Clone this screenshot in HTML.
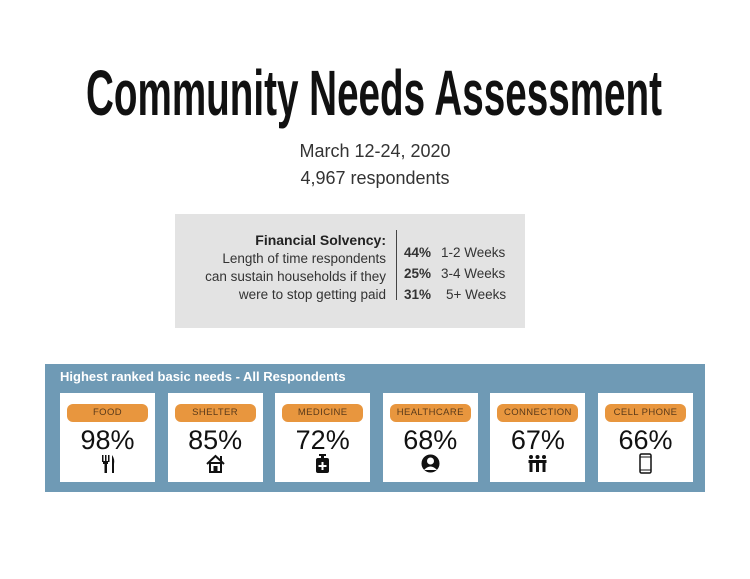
<!DOCTYPE html>
<html><head><meta charset="utf-8"><style>
body{margin:0;width:750px;height:579px;background:#fff;position:relative;overflow:hidden;font-family:"Liberation Sans",sans-serif;}
.abs{position:absolute;}
.sub{left:0;width:750px;text-align:center;font-size:18px;color:#333;}
.gray{left:175px;top:214px;width:350px;height:114px;background:#e3e3e3;}
.lt{right:141px;text-align:right;font-size:13.5px;color:#333;white-space:nowrap;}
.rt{font-size:13.5px;color:#333;white-space:nowrap;}
.panel{left:45px;top:364px;width:660px;height:128px;background:#6f9ab5;}
.card{top:393px;width:95px;height:89px;background:#fff;}
.pill{position:absolute;left:7px;top:11px;width:81px;height:18px;background:#e8963e;border-radius:6px;text-align:center;font-size:9.5px;letter-spacing:0.4px;line-height:18px;color:#5a3a1a;white-space:nowrap;}
.pct{position:absolute;left:0;top:32px;width:95px;text-align:center;font-size:27px;color:#111;}
.ico{position:absolute;left:37px;top:60px;width:21px;height:21px;}
</style></head><body>
<svg class="abs" style="left:0;top:0" width="750" height="130">
<text x="86" y="115" textLength="576" lengthAdjust="spacingAndGlyphs" font-family="Liberation Sans Narrow, Liberation Sans, sans-serif" font-weight="bold" font-size="64" fill="#111">Community Needs Assessment</text>
</svg>
<div class="abs sub" style="top:141px">March 12-24, 2020</div>
<div class="abs sub" style="top:168px">4,967 respondents</div>

<div class="abs gray"></div>
<div class="abs lt" style="top:232px;right:364px;font-weight:bold;font-size:14px;color:#222">Financial Solvency:</div>
<div class="abs lt" style="top:251px;right:364px">Length of time respondents</div>
<div class="abs lt" style="top:269px;right:364px">can sustain households if they</div>
<div class="abs lt" style="top:287px;right:364px">were to stop getting paid</div>
<div class="abs" style="left:396px;top:230px;width:1px;height:70px;background:#444"></div>
<div id="solv"></div>

<div class="abs panel"></div>
<div class="abs" style="left:60px;top:369px;font-size:13px;font-weight:bold;color:#fff">Highest ranked basic needs - All Respondents</div>
<div id="cards"></div>

<script>
const solvPct=["44%","25%","31%"];
const solvLbl=["1-2 Weeks","3-4 Weeks","5+ Weeks"];
const needNames=["FOOD","SHELTER","MEDICINE","HEALTHCARE","CONNECTION","CELL PHONE"];
const needPct=[98,85,72,68,67,66];
const icons=[
'<rect x="5" y="2" width="1.5" height="7" fill="#111"/><rect x="8" y="2" width="1.5" height="7" fill="#111"/><rect x="11" y="2" width="1.5" height="7" fill="#111"/><rect x="6" y="8" width="5" height="3" fill="#111"/><rect x="7.5" y="10" width="2.5" height="10" fill="#111"/><path d="M15 2 Q18 6 17 11 L17 20 L15 20 Z" fill="#111"/>',
'<path d="M2 11 L10.5 3 L19 11" stroke="#111" stroke-width="2" fill="none"/><rect x="15" y="3" width="2" height="5" fill="#111"/><rect x="5" y="10" width="11" height="9" stroke="#111" stroke-width="2" fill="none"/><rect x="8.5" y="13" width="4" height="6" fill="#111"/>',
'<rect x="7" y="1" width="7" height="2" fill="#111"/><rect x="9" y="3" width="3" height="2" fill="#111"/><rect x="4" y="5" width="13" height="15" rx="2" fill="#111"/><rect x="9.5" y="9" width="2" height="8" fill="#fff"/><rect x="6.5" y="12" width="8" height="2" fill="#fff"/>',
'<circle cx="10.5" cy="10.5" r="9" fill="#111"/><circle cx="10.5" cy="8" r="3.5" fill="#fff"/><path d="M4 17 Q10.5 10 17 17" fill="#fff"/>',
'<g fill="#111"><circle cx="4" cy="4" r="2"/><circle cx="10.5" cy="4" r="2"/><circle cx="17" cy="4" r="2"/><rect x="1.5" y="7" width="18" height="3"/><rect x="2.5" y="9" width="3" height="10"/><rect x="9" y="9" width="3" height="10"/><rect x="15.5" y="9" width="3" height="10"/></g>',
'<rect x="5" y="1" width="11" height="19" rx="1.5" stroke="#111" stroke-width="1.5" fill="none"/><line x1="5" y1="4" x2="16" y2="4" stroke="#111"/><line x1="5" y1="17" x2="16" y2="17" stroke="#111"/>'
];
const sv=document.getElementById('solv');
solvPct.forEach((p,i)=>{
  const a=document.createElement('div');a.className='abs rt';
  a.style.left='404px';a.style.top=(245+i*21)+'px';a.style.fontWeight='bold';a.textContent=p;
  
  
  sv.appendChild(a);
  const b=document.createElement('div');b.className='abs rt';
  b.style.left=(i==2?446:441)+'px';b.style.top=(245+i*21)+'px';b.textContent=solvLbl[i];
  
  
  sv.appendChild(b);
});
const cs=document.getElementById('cards');
needNames.forEach((n,i)=>{
  const c=document.createElement('div');c.className='abs card';
  c.style.left=(60+i*107.6)+'px';
  
  
  c.innerHTML='<div class="pill">'+n+'</div><div class="pct">'+needPct[i]+'%</div><svg class="ico" viewBox="0 0 21 21">'+icons[i]+'</svg>';
  cs.appendChild(c);
});
</script>
</body></html>
